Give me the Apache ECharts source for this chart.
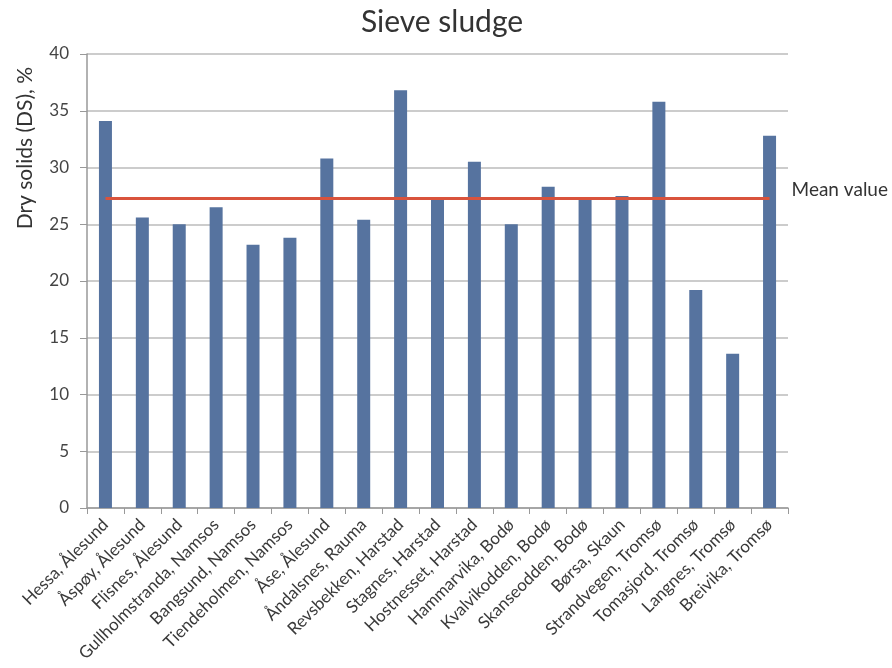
<!DOCTYPE html>
<html>
<head>
<meta charset="utf-8">
<script src="https://cdn.jsdelivr.net/npm/echarts@6/dist/echarts.min.js"></script>
<style>
  html, body { margin: 0; padding: 0; background: #fff; }
  #board { width: 892px; height: 668px; }
</style>
</head>
<body>
<div id="board"></div>
<script>
// plants (x axis)
const plants = [
  'Hessa, Ålesund', 'Åspøy, Ålesund', 'Flisnes, Ålesund', 'Gullholmstranda, Namsos',
  'Bangsund, Namsos', 'Tiendeholmen, Namsos', 'Åse, Ålesund', 'Åndalsnes, Rauma',
  'Revsbekken, Harstad', 'Stagnes, Harstad', 'Hostnesset, Harstad', 'Hammarvika, Bodø',
  'Kvalvikodden, Bodø', 'Skanseodden, Bodø', 'Børsa, Skaun', 'Strandvegen, Tromsø',
  'Tomasjord, Tromsø', 'Langnes, Tromsø', 'Breivika, Tromsø'
];
// dry solids, %
const drySolids = [34.1, 25.6, 25.0, 26.5, 23.2, 23.8, 30.8, 25.4, 36.8, 27.2,
  30.5, 25.0, 28.3, 27.2, 27.5, 35.8, 19.2, 13.6, 32.8];
const meanValue = 27.3;
const yTicks = [0, 5, 10, 15, 20, 25, 30, 35, 40];

let myChart = echarts.init(document.getElementById('board'));
myChart.setOption({
  animation: false,
  title: {
    text: 'Sieve sludge',
    left: 437, top: 2, textAlign: 'center',
    textStyle: { fontFamily: 'Lato', fontSize: 30, fontWeight: 'normal', color: '#333' }
  },
  // y axis name sits high up, like in the original
  graphic: [{
    type: 'text',
    left: 15, top: 67,
    rotation: Math.PI / 2,
    style: {
      text: 'Dry solids (DS), %',
      fontFamily: 'Lato', fontSize: 21, fill: '#333'
    }
  }],
  grid: { left: 87, right: 104, top: 54, bottom: 160 },
  xAxis: {
    type: 'category',
    data: plants,
    axisLine: { lineStyle: { color: '#999', width: 1.5 } },
    axisTick: { show: true, length: 6, lineStyle: { color: '#999' } },
    axisLabel: {
      rotate: 45, interval: 0, margin: 14,
      fontFamily: 'Lato', fontSize: 17, color: '#3a3a3a'
    }
  },
  yAxis: {
    type: 'value',
    min: yTicks[0], max: yTicks[yTicks.length - 1], interval: 5,
    axisLine: { show: true, lineStyle: { color: '#999', width: 1.5 } },
    axisTick: { show: true, length: 7, lineStyle: { color: '#999' } },
    axisLabel: { fontFamily: 'Lato', fontSize: 17, color: '#444', margin: 18 },
    splitLine: { lineStyle: { color: '#bbb', width: 1.5 } }
  },
  series: [{
    type: 'bar',
    data: drySolids,
    barWidth: 13,
    itemStyle: { color: '#56739f' },
    markLine: {
      symbol: 'none',
      silent: true,
      lineStyle: { color: '#d9533c', width: 3, type: 'solid' },
      label: {
        show: true, position: 'end', formatter: 'Mean value', distance: 22,
        verticalAlign: 'bottom', lineHeight: 17,
        fontFamily: 'Lato', fontSize: 19, color: '#333'
      },
      data: [[
        { coord: [plants[0], meanValue] },
        { coord: [plants[plants.length - 1], meanValue] }
      ]]
    }
  }]
});
</script>
</body>
</html>
